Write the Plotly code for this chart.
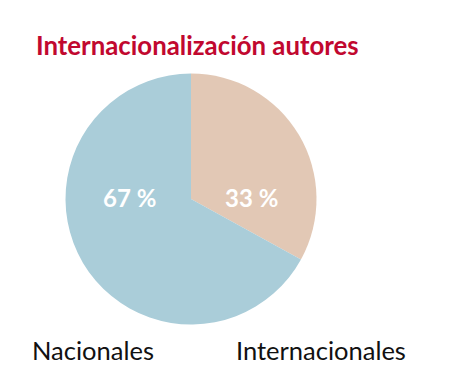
import plotly.graph_objects as go

labels = ["Internacionales", "Nacionales"]
values = [33, 67]
colors = ["#e2c8b5", "#aacdd9"]
title_text = "Internacionalización autores"

W, H = 454, 392
OFF = 8  # default page body margin
cx, cy, r = 191 - OFF, 199 - OFF, 125.5


def px(x):
    return (x - OFF) / W


def py(y):
    return 1 - (y - OFF) / H


fig = go.Figure(go.Pie(
    labels=labels, values=values, sort=False, direction="clockwise", rotation=0,
    marker=dict(colors=colors, line=dict(width=0)),
    textinfo="none", hoverinfo="label+percent", showlegend=False,
    domain=dict(x=[(cx - r) / W, (cx + r) / W], y=[1 - (cy + r) / H, 1 - (cy - r) / H]),
))

ann = [
    dict(text=f"<b>{title_text}</b>", x=px(34), y=py(45), xanchor="left", yanchor="middle",
         font=dict(family="Lato", size=25.8, color="#c1082f")),
    dict(text=f"<b>{values[1]} %</b>", x=px(129), y=py(197), xanchor="center", yanchor="middle",
         font=dict(family="Lato", size=24, color="white")),
    dict(text=f"<b>{values[0]} %</b>", x=px(251), y=py(197), xanchor="center", yanchor="middle",
         font=dict(family="Lato", size=24, color="white")),
    dict(text=labels[1], x=px(29.5), y=py(350), xanchor="left", yanchor="middle",
         font=dict(family="Lato", size=25.5, color="#111111")),
    dict(text=labels[0], x=px(234), y=py(350), xanchor="left", yanchor="middle",
         font=dict(family="Lato", size=25.5, color="#111111")),
]
for a in ann:
    a.update(xref="paper", yref="paper", showarrow=False)

fig.update_layout(width=W, height=H, margin=dict(l=0, r=0, t=0, b=0),
                  paper_bgcolor="white", plot_bgcolor="white", annotations=ann)
fig.write_html("out.html")
